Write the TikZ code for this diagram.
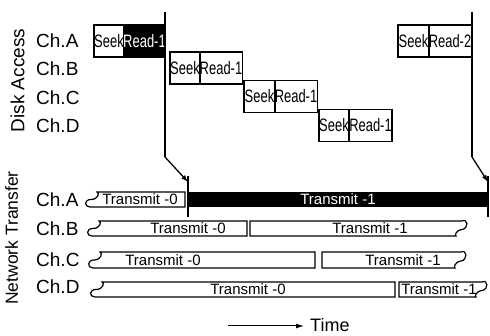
\documentclass[tikz,border=0pt]{standalone}
\usepackage{fontspec}
\setmainfont{Liberation Sans}
\usepackage{graphicx}
\usetikzlibrary{arrows.meta}
\newcommand{\nar}[1]{\scalebox{0.72}[1]{#1}}
\tikzset{
  diskbox/.style={draw, line width=1.2pt, inner sep=0pt, minimum height=32pt,
    font=\fontsize{18}{18}\selectfont},
  blackbox/.style={diskbox, fill=black, text=white},
  bar/.style={draw, line width=1.2pt},
  txt/.style={inner sep=0pt, font=\fontsize{15}{15}\selectfont},
  chlab/.style={anchor=west, inner sep=0pt, font=\fontsize{19}{19}\selectfont},
  side/.style={rotate=90, inner sep=0pt},
  conn/.style={line width=1.3pt},
}
\begin{document}
\begin{tikzpicture}[x=1pt,y=-1pt]
\useasboundingbox (0,0) rectangle (490,336);
% side labels
\node[side, font=\fontsize{19}{19}\selectfont] (da) at (17.5,80.5) {Disk Access};
\node[side, font=\fontsize{17.5}{17.5}\selectfont] (nt) at (11.5,238) {Network Transfer};
% channel labels
\node[chlab] (dA) at (36,41) {Ch.A};
\node[chlab] (dB) at (36,69) {Ch.B};
\node[chlab] (dC) at (36,97.5) {Ch.C};
\node[chlab] (dD) at (36,126) {Ch.D};
\node[chlab] (nA) at (36,199.5) {Ch.A};
\node[chlab] (nB) at (36,229) {Ch.B};
\node[chlab] (nC) at (36,259.5) {Ch.C};
\node[chlab] (nD) at (36,287) {Ch.D};
% disk boxes
\node[diskbox, minimum width=30pt] (sA) at (109,41) {\nar{Seek}};
\node[blackbox, minimum width=41pt] (rA) at (144.5,41) {\nar{Read-1}};
\node[diskbox, minimum width=30pt] (sB) at (185,68) {\nar{Seek}};
\node[diskbox, minimum width=42pt] (rB) at (221,68) {\nar{Read-1}};
\node[diskbox, minimum width=31pt] (sC) at (259.5,96.5) {\nar{Seek}};
\node[diskbox, minimum width=42pt] (rC) at (296,96.5) {\nar{Read-1}};
\node[diskbox, minimum width=30pt] (sD) at (334,125.5) {\nar{Seek}};
\node[diskbox, minimum width=43pt] (rD) at (370.5,125.5) {\nar{Read-1}};
\node[diskbox, minimum width=31pt] (sE) at (413.5,41) {\nar{Seek}};
\node[diskbox, minimum width=42pt] (rE) at (450,41) {\nar{Read-2}};
% network bars
% Ch.A
\draw[bar] (97,192) -- (185,192) -- (185,207) -- (90,207) .. controls (84,207) and (84,199.5) .. (91,199.5) .. controls (98,199.5) and (100,193) .. cycle;
\node[txt] (tA0) at (140,199.5) {Transmit -0};
\fill[black] (189,192) rectangle (488,207);
\node[txt, text=white] (tA1) at (338,199.5) {Transmit -1};
% Ch.B
\draw[bar] (99,221) -- (247,221) -- (247,236) -- (92,236) .. controls (86,236) and (86,228.5) .. (93,228.5) .. controls (100,228.5) and (102,222) .. cycle;
\node[txt] (tB0) at (188,228.5) {Transmit -0};
\draw[bar] (250,221) -- (462,221) .. controls (468,218) and (469,228.5) .. (462,229.5) .. controls (455,230.5) and (455,236) .. (456,236) -- (250,236) -- cycle;
\node[txt] (tB1) at (370,228.5) {Transmit -1};
% Ch.C
\draw[bar] (100,252) -- (315,252) -- (315,268) -- (93,268) .. controls (87,268) and (87,260) .. (94,260) .. controls (101,260) and (103,253) .. cycle;
\node[txt] (tC0) at (163,260) {Transmit -0};
\draw[bar] (322,252) -- (461,252) .. controls (467,249) and (468,260) .. (461,261) .. controls (454,262) and (454,268) .. (455,268) -- (322,268) -- cycle;
\node[txt] (tC1) at (403,260) {Transmit -1};
% Ch.D
\draw[bar] (102,282) -- (395,282) -- (395,297) -- (95,297) .. controls (89,297) and (89,289.5) .. (96,289.5) .. controls (103,289.5) and (105,283) .. cycle;
\node[txt] (tD0) at (248,289.5) {Transmit -0};
\draw[bar] (399,282) -- (482,282) .. controls (488,279) and (489,289.5) .. (482,290.5) .. controls (475,291.5) and (475,297) .. (476,297) -- (399,297) -- cycle;
\node[txt] (tD1) at (439,289.5) {Transmit -1};
% connectors
\coordinate (t1) at (165,12);
\coordinate (b1) at (165,157);
\coordinate (h1) at (188,182);
\coordinate (u1) at (188,176);
\coordinate (d1) at (188,217);
\draw[conn] (t1) -- (b1);
\draw[conn, -{Latex[length=7pt,width=5pt]}] (b1) -- (h1);
\draw[conn] (u1) -- (d1);
\coordinate (t2) at (472,12);
\coordinate (b2) at (472,157);
\coordinate (h2) at (488,182);
\coordinate (u2) at (488,176);
\coordinate (d2) at (488,217);
\draw[conn] (t2) -- (b2);
\draw[conn, -{Latex[length=7pt,width=5pt]}] (b2) -- (h2);
\draw[conn] (u2) -- (d2);
% time arrow
\node[anchor=west, inner sep=0pt, font=\fontsize{18}{18}\selectfont] (time) at (310,325.5) {Time};
\coordinate (ts) at (228,326);
\coordinate (te) at (304,326);
\draw[line width=1pt, -{Latex[length=8pt,width=5pt]}] (ts) -- (te);
\end{tikzpicture}
\end{document}
